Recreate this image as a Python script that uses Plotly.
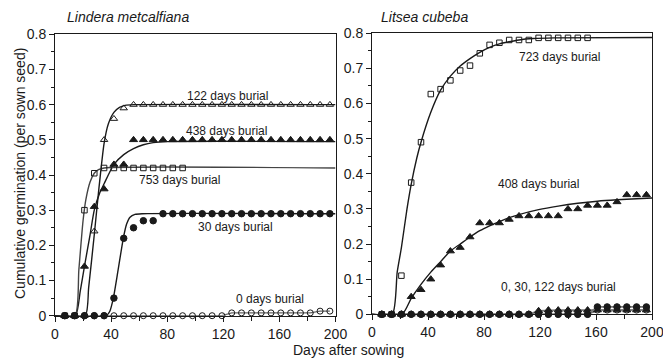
import plotly.graph_objects as go

# ---------------- data ----------------
days = [7, 14, 21, 28, 35, 42, 49, 56, 63, 70, 77, 84, 91, 98, 105, 112, 119,
        126, 133, 140, 147, 154, 161, 168, 175, 182, 189, 196]
days_753 = [7, 14, 21, 28, 35, 42, 49, 56, 63, 70, 77, 84, 91]
days_723 = [7, 14, 21, 28, 35, 42, 49, 56, 63, 70, 77, 84, 91, 98, 105, 112,
            119, 126, 133, 140, 147, 154]

# Lindera metcalfiana (left)
lm_122 = [0, 0, 0, 0.24, 0.50, 0.56, 0.59, 0.60, 0.60, 0.60, 0.60, 0.60, 0.60, 0.60,
          0.60, 0.60, 0.60, 0.60, 0.60, 0.60, 0.60, 0.60, 0.60, 0.60, 0.60, 0.60, 0.60, 0.60]
lm_438 = [0, 0, 0.14, 0.31, 0.36, 0.43, 0.43, 0.50, 0.50, 0.50, 0.50, 0.50, 0.50, 0.50,
          0.50, 0.50, 0.50, 0.50, 0.50, 0.50, 0.50, 0.50, 0.50, 0.50, 0.50, 0.50, 0.50, 0.50]
lm_753 = [0, 0, 0.30, 0.405, 0.42, 0.42, 0.42, 0.42, 0.42, 0.42, 0.42, 0.42, 0.42]
lm_30 = [0, 0, 0, 0, 0, 0.05, 0.22, 0.25, 0.27, 0.27, 0.29, 0.29, 0.29, 0.29,
         0.29, 0.29, 0.29, 0.29, 0.29, 0.29, 0.29, 0.29, 0.29, 0.29, 0.29, 0.29, 0.29, 0.29]
lm_0 = [0, 0, 0, 0, 0, 0, 0, 0, 0, 0, 0, 0, 0, 0, 0, 0, 0,
        0.008, 0.008, 0.008, 0.008, 0.008, 0.008, 0.008, 0.008, 0.008, 0.013, 0.013]

# fitted curves (left)
fit_122_x = [0, 21.5, 24, 28, 31, 35, 38, 42, 46, 50, 56, 200]
fit_122_y = [0, 0, 0.08, 0.23, 0.35, 0.49, 0.545, 0.578, 0.592, 0.598, 0.60, 0.60]
fit_438_x = [0, 14.5, 18, 21, 25, 28, 32, 35, 42, 49, 56, 63, 70, 80, 200]
fit_438_y = [0, 0, 0.07, 0.14, 0.23, 0.30, 0.35, 0.375, 0.43, 0.458, 0.475, 0.486, 0.492, 0.495, 0.495]
fit_753_x = [0, 14.3, 17, 20, 22, 25, 28, 31, 35, 200]
fit_753_y = [0, 0, 0.13, 0.27, 0.33, 0.38, 0.405, 0.415, 0.42, 0.42]
fit_30_x = [0, 36.5, 39, 41.6, 45, 48.7, 51, 53.5, 57, 62, 200]
fit_30_y = [0, 0, 0.012, 0.05, 0.13, 0.22, 0.26, 0.28, 0.288, 0.29, 0.29]

# Litsea cubeba (right)
lc_723 = [0, 0, 0.11, 0.375, 0.49, 0.627, 0.641, 0.666, 0.694, 0.708, 0.743, 0.767,
          0.773, 0.781, 0.781, 0.781, 0.787, 0.787, 0.787, 0.787, 0.787, 0.787]
lc_408 = [0, 0, 0, 0.05, 0.07, 0.10, 0.14, 0.18, 0.19, 0.22, 0.26, 0.26, 0.26, 0.27,
          0.28, 0.28, 0.28, 0.28, 0.28, 0.30, 0.30, 0.31, 0.31, 0.31, 0.32, 0.34, 0.34, 0.34]
lc_0 = [0, 0, 0, 0, 0, 0, 0, 0, 0, 0, 0, 0, 0, 0, 0, 0, 0, 0, 0, 0, 0, 0,
        0.012, 0.012, 0.012, 0.012, 0.012, 0.012]
lc_30 = [0, 0, 0, 0, 0, 0, 0, 0, 0, 0, 0, 0, 0, 0, 0, 0, 0, 0, 0, 0, 0, 0,
         0.021, 0.021, 0.021, 0.021, 0.021, 0.021]
lc_122 = [0, 0, 0, 0, 0, 0, 0, 0, 0, 0, 0, 0, 0, 0, 0, 0, 0.01,
          0.012, 0.012, 0.012, 0.012, 0.012, 0.012, 0.012, 0.012, 0.012, 0.012, 0.012]

fit_723_x = [0, 14.5, 18, 21, 25, 28, 32, 35, 42, 49, 56, 63, 70, 77, 84, 91, 98, 105, 115, 130, 200]
fit_723_y = [0, 0, 0.12, 0.19, 0.30, 0.37, 0.445, 0.49, 0.575, 0.638, 0.678, 0.707, 0.728,
             0.746, 0.760, 0.770, 0.776, 0.781, 0.785, 0.787, 0.788]
fit_408_x = [0, 21.5, 28, 35, 42, 49, 56, 63, 70, 77, 84, 91, 98, 105, 119, 133, 147, 161, 175, 189, 200]
fit_408_y = [0, 0, 0.045, 0.085, 0.12, 0.15, 0.18, 0.20, 0.22, 0.238, 0.252, 0.264, 0.275,
             0.284, 0.298, 0.308, 0.316, 0.322, 0.326, 0.329, 0.331]

x_ticks = [0, 40, 80, 120, 160, 200]
x_ticktext = ["0", "40", "80", "120", "160", "200"]
y_ticks = [0, 0.1, 0.2, 0.3, 0.4, 0.5, 0.6, 0.7, 0.8]
y_ticktext = ["0", "0.1", "0.2", "0.3", "0.4", "0.5", "0.6", "0.7", "0.8"]

# ---------------- figure ----------------
FONT = "Liberation Sans, Arial, sans-serif"
INK = "#1a1a1a"
# the page body has an 8px margin, so the figure is drawn 8px smaller
OFF = 8
W, H = 671 - OFF, 359 - OFF


def fx(p):  # page pixel x -> paper fraction
    return (p - OFF) / W


def fy(p):  # page pixel y -> paper fraction
    return (H - (p - OFF)) / H


fig = go.Figure()


def curve(x, y, xa, ya, color=INK, width=1.4):
    fig.add_trace(go.Scatter(x=x, y=y, mode="lines", xaxis=xa, yaxis=ya,
                             line=dict(color=color, width=width, shape="spline", smoothing=0.6),
                             hoverinfo="skip", showlegend=False, cliponaxis=False))


def pts(x, y, xa, ya, symbol, size, mode="markers", lcolor="#666", lwidth=1.2):
    fig.add_trace(go.Scatter(
        x=x, y=y, mode=mode, xaxis=xa, yaxis=ya,
        marker=dict(symbol=symbol, size=size, color=INK,
                    line=dict(color=INK, width=1)),
        line=dict(color=lcolor, width=lwidth),
        showlegend=False, cliponaxis=False))


# left panel curves
curve(fit_122_x, fit_122_y, "x", "y")
curve(fit_438_x, fit_438_y, "x", "y")
curve(fit_753_x, fit_753_y, "x", "y", color="#444")
curve(fit_30_x, fit_30_y, "x", "y")
# left panel markers
pts(days, lm_0, "x", "y", "circle-open", 6, mode="lines+markers", lcolor="#666", lwidth=1.2)
pts(days, lm_30, "x", "y", "circle", 6.5)
pts(days_753, lm_753, "x", "y", "square-open", 5.5)
pts(days, lm_438, "x", "y", "triangle-up", 7)
pts(days, lm_122, "x", "y", "triangle-up-open", 6.5)

# right panel curves
curve(fit_723_x, fit_723_y, "x2", "y2")
curve(fit_408_x, fit_408_y, "x2", "y2")
# right panel markers
pts(days, lc_0, "x2", "y2", "circle-open", 6, mode="lines+markers", lcolor="#777", lwidth=1.8)
pts(days, lc_122, "x2", "y2", "triangle-up", 7, mode="lines+markers", lcolor="#777", lwidth=1.8)
pts(days, lc_30, "x2", "y2", "circle", 6.5, mode="lines+markers", lcolor="#777", lwidth=1.8)
pts(days, lc_408, "x2", "y2", "triangle-up", 7)
pts(days_723, lc_723, "x2", "y2", "square-open", 5.5)


def xaxis(domain, anchor):
    return dict(domain=domain, anchor=anchor, range=[0, 200], showgrid=False, zeroline=False,
                automargin=False,
                showline=True, linecolor=INK, linewidth=1, mirror=True,
                ticks="outside", ticklen=5, tickwidth=1, tickcolor=INK,
                tickvals=x_ticks, ticktext=x_ticktext,
                minor=dict(dtick=20, tick0=0, ticks="outside", ticklen=4, tickcolor=INK),
                tickfont=dict(family=FONT, size=14, color=INK))


def yaxis(domain, anchor):
    return dict(domain=domain, anchor=anchor, range=[0, 0.8], showgrid=False, zeroline=False,
                automargin=False,
                showline=True, linecolor=INK, linewidth=1, mirror=True,
                ticks="outside", ticklen=5, tickwidth=1, tickcolor=INK,
                tickvals=y_ticks, ticktext=y_ticktext,
                minor=dict(dtick=0.05, tick0=0, ticks="outside", ticklen=3, tickcolor=INK),
                tickfont=dict(family=FONT, size=14, color=INK))


fig.update_layout(
    width=W, height=H, margin=dict(l=0, r=0, t=0, b=0, autoexpand=False),
    paper_bgcolor="white", plot_bgcolor="white",
    xaxis=xaxis([fx(55), fx(335.5)], "y"),
    yaxis=yaxis([fy(315.7), fy(34.3)], "x"),
    xaxis2=xaxis([fx(372), fx(652)], "y2"),
    yaxis2=yaxis([fy(314.3), fy(33.3)], "x2"),
)

ann = []


def label(text, x, y, xref, yref, size=12):
    ann.append(dict(text=text, x=x, y=y, xref=xref, yref=yref, showarrow=False,
                    xanchor="center", yanchor="middle",
                    font=dict(family=FONT, size=size, color=INK)))


label("122 days burial", 123, 0.624, "x", "y")
label("438 days burial", 122, 0.524, "x", "y")
label("753 days burial", 89, 0.387, "x", "y")
label("30 days burial", 129, 0.253, "x", "y")
label("0 days burial", 153, 0.047, "x", "y")
label("723 days burial", 134, 0.732, "x2", "y2")
label("408 days burial", 119, 0.371, "x2", "y2")
label("0, 30, 122 days burial", 133, 0.078, "x2", "y2")

ann.append(dict(text="<i>Lindera metcalfiana</i>", x=fx(65), y=fy(17), xref="paper", yref="paper",
                showarrow=False, xanchor="left", yanchor="middle",
                font=dict(family=FONT, size=14, color=INK)))
ann.append(dict(text="<i>Litsea cubeba</i>", x=fx(379), y=fy(17), xref="paper", yref="paper",
                showarrow=False, xanchor="left", yanchor="middle",
                font=dict(family=FONT, size=14, color=INK)))
ann.append(dict(text="Days after sowing", x=fx(349), y=fy(350), xref="paper", yref="paper",
                showarrow=False, xanchor="center", yanchor="middle",
                font=dict(family=FONT, size=14, color=INK)))
ann.append(dict(text="Cumulative germination (per sown seed)", x=fx(19.5), y=fy(173.5),
                xref="paper", yref="paper", showarrow=False, textangle=-90,
                xanchor="center", yanchor="middle",
                font=dict(family=FONT, size=14, color=INK)))
fig.update_layout(annotations=ann)

fig.write_html("out.html")
